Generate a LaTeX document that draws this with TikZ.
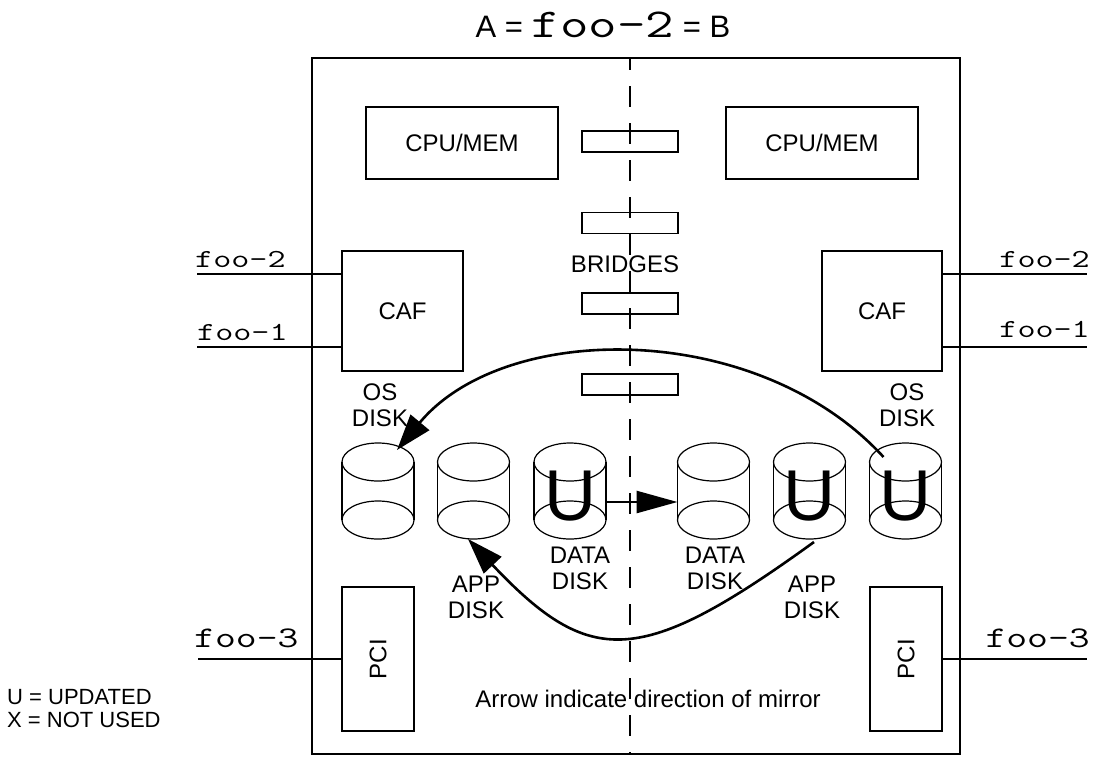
\documentclass[tikz,border=0pt]{standalone}
\usepackage{fontspec}
\setmainfont{Liberation Sans}
\newfontfamily\foofont[FakeStretch=1.35]{Latin Modern Mono}
\usepackage{tikz}
\usetikzlibrary{arrows.meta,positioning}

\begin{document}
\begin{tikzpicture}[x=1pt,y=-1pt,node distance=24pt,
box/.style={draw,line width=1.2pt,inner sep=0pt,font=\fontsize{24}{26}\selectfont},
bridge/.style={draw,line width=1.2pt,minimum width=96pt,minimum height=21pt,inner sep=0pt},
disk/.style={minimum width=72pt,minimum height=96pt,inner sep=0pt,outer sep=0pt,
  text height=58pt,text depth=0pt,font=\fontsize{72}{72}\selectfont},
lbl/.style={align=center,inner sep=0pt,font=\fontsize{24}{26}\selectfont},
wire/.style={inner sep=0pt,font=\foofont\fontsize{26}{26}\selectfont},
mirror/.style={line width=2.6pt,-{Triangle[length=36pt,width=24pt]}}]
\useasboundingbox (0,0) rectangle (1096,756);
\node[anchor=base] (title) at (603,37) {\fontsize{31}{31}\selectfont A = {\foofont\fontsize{41}{41}\selectfont foo-2} = B};
\node[draw,line width=1.2pt,minimum width=648pt,minimum height=696pt] (chassis) at (636,406) {};
\coordinate (mtop) at (630,58);
\coordinate (mbot) at (630,754);
\draw[line width=1.2pt,dash pattern=on 21pt off 16pt,dash phase=9pt] (mtop) -- (mbot);
% boards
\node[box,minimum width=192pt,minimum height=72pt] (cpuA) at (462,143) {CPU/MEM};
\node[box,minimum width=192pt,minimum height=72pt] (cpuB) at (822,143) {CPU/MEM};
\node[box,minimum width=121pt,minimum height=120pt] (cafA) at (402.5,311) {CAF};
\node[box,minimum width=120pt,minimum height=120pt] (cafB) at (882,311) {CAF};
\node[box,rotate=90,minimum width=144pt,minimum height=72pt] (pciA) at (378,659) {PCI};
\node[box,rotate=90,minimum width=144pt,minimum height=72pt] (pciB) at (906,659) {PCI};
\foreach \i/\y in {1/141.5,2/223,3/303.5,4/384.5}
  \node[bridge] (br\i) at (630,\y) {};
\node[lbl] (brtxt) at (625,264.5) {BRIDGES};
% external links
\coordinate (w2A) at (197,274);
\coordinate (w1A) at (197,347);
\coordinate (w3A) at (198,659);
\coordinate (w2B) at (1087,274);
\coordinate (w1B) at (1087,347);
\coordinate (w3B) at (1087,659);
\draw[line width=1.2pt] (w2A) -- (w2A -| cafA.west) (w1A) -- (w1A -| cafA.west) (w3A) -- (pciA.north);
\draw[line width=1.2pt] (cafB.east |- w2B) -- (w2B) (cafB.east |- w1B) -- (w1B) (pciB.south) -- (w3B);
\node[wire,anchor=base west] (f2A) at (195,267) {foo-2};
\node[wire,anchor=base west] (f1A) at (197,340) {foo-1};
\node[wire,anchor=base west,font=\foofont\fontsize{30}{30}\selectfont] (f3A) at (194,647) {foo-3};
\node[wire,anchor=base east] (f2B) at (1090,267) {foo-2};
\node[wire,anchor=base east] (f1B) at (1090,337) {foo-1};
\node[wire,anchor=base east,font=\foofont\fontsize{30}{30}\selectfont] (f3B) at (1090,647) {foo-3};
% disks
\node[disk] (osA) at (378,491) {};
\node[disk,right=23.5pt of osA] (appA) {};
\node[disk,right=24.5pt of appA] (dataA) {U};
\node[disk,right=71.5pt of dataA] (dataB) {};
\node[disk,right=of dataB] (appB) {U};
\node[disk,right=of appB] (osB) {U};
\foreach \d in {osA,appA,dataA,dataB,appB,osB}{
  \draw[line width=1.2pt] ([yshift=-19pt]\d.north) ellipse [x radius=36pt,y radius=19pt]
    ([yshift=19pt]\d.south) ellipse [x radius=36pt,y radius=19pt];
  \draw[line width=1.2pt] ([yshift=-19pt]\d.north west) -- ([yshift=19pt]\d.south west)
    ([yshift=-19pt]\d.north east) -- ([yshift=19pt]\d.south east);
}
\node[lbl,above=16pt of osA,xshift=2pt] (osAtxt) {OS\\DISK};
\node[lbl,above=16pt of osB,xshift=1.5pt] (osBtxt) {OS\\DISK};
\node[lbl,below=8pt of dataA,xshift=10pt] (dataAtxt) {DATA\\DISK};
\node[lbl,below=8pt of dataB,xshift=1.5pt] (dataBtxt) {DATA\\DISK};
\node[lbl,below=37pt of appA,xshift=2.5pt] (appAtxt) {APP\\DISK};
\node[lbl,below=37pt of appB,xshift=2.5pt] (appBtxt) {APP\\DISK};
% mirror directions
\draw[mirror] ([shift={(-22,-34)}]osB.center) .. controls (758,320) and (505,320) .. ([shift={(19,-41)}]osA.center);
\draw[mirror] ([shift={(4.5,51)}]appB.center) .. controls (640,668) and (590,668) .. ([shift={(-5.5,48)}]appA.center);
\draw[mirror,-{Triangle[length=41pt,width=22pt]}] ([yshift=-11pt]dataA.east) -- ([yshift=-11pt]dataB.west);
\node[lbl,anchor=base] (note) at (648,707) {Arrow indicate direction of mirror};
\node[lbl,align=left,anchor=west,font=\fontsize{22}{23}\selectfont] (legend) at (7,709) {U = UPDATED\\X = NOT USED};
\end{tikzpicture}
\end{document}
